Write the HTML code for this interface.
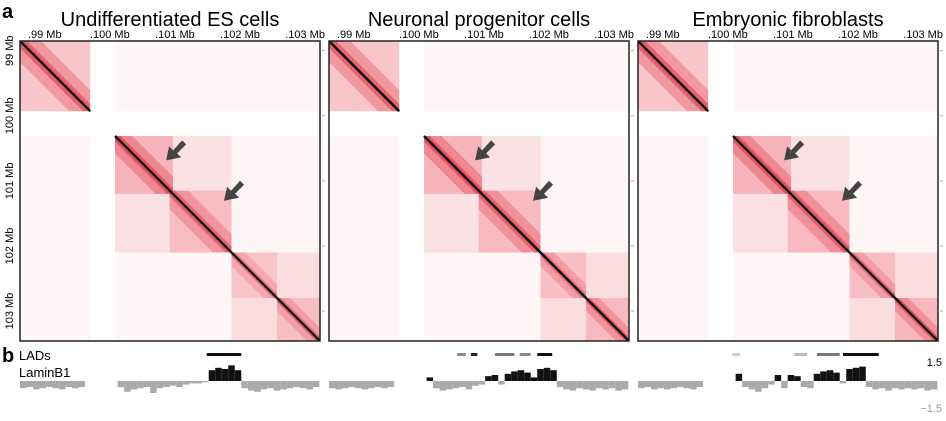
<!DOCTYPE html>
<html><head><meta charset="utf-8">
<style>
body{margin:0;background:#fff;width:946px;height:416px;overflow:hidden;font-family:"Liberation Sans",Arial,sans-serif}
svg text{font-family:"Liberation Sans",Arial,sans-serif}
</style></head>
<body>
<svg id="fig" width="946" height="416" viewBox="0 0 946 416" xmlns="http://www.w3.org/2000/svg">
<text x="2" y="18" font-size="20" font-weight="bold">a</text>
<text x="2" y="362" font-size="20" font-weight="bold">b</text>
<text x="19" y="360" font-size="13">LADs</text>
<text x="19" y="377" font-size="13">LaminB1</text>
<text x="942" y="366" font-size="11" text-anchor="end">1.5</text>
<text x="942" y="412" font-size="11" fill="#999" text-anchor="end">−1.5</text>
</svg>
<script>
const titles=["Undifferentiated ES cells","Neuronal progenitor cells","Embryonic fibroblasts"];
const panelX=[20,329,638];
const tickMb=[99,100,101,102,103];
const gapMb=[99.93,100.31];
// domains: [startMb,endMb,intensity]
const domains1=[[98.85,99.93,0.8],[100.31,101.2,0.85],[101.15,102.1,0.7],[102.1,102.8,0.5],[102.8,103.46,0.6]];
const domains2=[[98.85,99.93,0.8],[100.31,101.2,0.85],[101.15,102.1,0.75],[102.1,102.8,0.6],[102.8,103.46,0.7]];
const domains3=[[98.85,99.93,0.8],[100.31,101.2,0.85],[101.15,102.1,0.75],[102.1,102.8,0.6],[102.8,103.46,0.75]];
const allDomains=[domains1,domains2,domains3];
const arrowsMb=[[101.28,100.5],[102.17,101.12]];
// LaminB1 values at 0.1 Mb bins from 98.9 to 103.4 (null = gap)
const lamin1=[-0.6,-0.5,-0.7,-0.6,-0.5,-0.6,-0.7,-0.5,-0.6,-0.5,null,null,null,null,null,-0.5,-0.9,-0.7,-0.6,-0.5,-1.0,-0.6,-0.5,-0.4,-0.5,-0.3,-0.2,-0.2,-0.1,0.9,1.1,1.0,1.3,0.9,-0.6,-0.8,-0.9,-0.7,-0.6,-0.8,-0.7,-0.6,-0.5,-0.6,-0.7,-0.5];
const lamin2=[-0.6,-0.7,-0.6,-0.5,-0.6,-0.7,-0.6,-0.5,-0.6,-0.5,null,null,null,null,null,0.3,-0.6,-0.8,-0.7,-0.6,-0.5,-0.7,-0.4,-0.3,0.4,0.5,-0.3,0.6,0.8,0.9,0.7,0.3,1.0,1.1,0.9,-0.5,-0.7,-0.8,-0.6,-0.7,-0.8,-0.6,-0.7,-0.6,-0.8,-0.7];
const lamin3=[-0.6,-0.5,-0.7,-0.6,-0.7,-0.6,-0.5,-0.6,-0.7,-0.5,null,null,null,null,null,0.6,-0.5,-0.7,-0.9,-0.6,-0.3,0.5,-0.6,0.5,0.4,-0.5,-0.6,0.6,0.8,0.9,0.7,-0.2,1.0,1.1,1.2,-0.5,-0.7,-0.6,-0.8,-0.6,-0.7,-0.6,-0.7,-0.6,-0.8,-0.7];
const allLamin=[lamin1,lamin2,lamin3];
const lads1=[[101.72,102.25,"#111"]];
const lads2=[[100.82,100.95,"#888"],[101.03,101.13,"#222"],[101.4,101.7,"#777"],[101.78,101.95,"#888"],[102.05,102.28,"#111"]];
const lads3=[[100.3,100.42,"#ccc"],[101.25,101.45,"#bbb"],[101.6,101.95,"#777"],[102.0,102.55,"#111"]];
const allLads=[lads1,lads2,lads3];

const NS="http://www.w3.org/2000/svg";
const svg=document.getElementById('fig');
const top0=41,size=300,mb0=98.85,mb1=103.46;
function mk(t,a,p){const e=document.createElementNS(NS,t);for(const k in a)e.setAttribute(k,a[k]);(p||svg).appendChild(e);return e;}
function sx(px,mb){return px+(mb-mb0)/(mb1-mb0)*size;}
function sy(mb){return top0+(mb-mb0)/(mb1-mb0)*size;}
const defs=mk('defs',{});
titles.forEach((t,i)=>{
  const px=panelX[i];
  const g=mk('g',{});
  
  
  const cp=mk('clipPath',{id:'c'+i},defs);mk('rect',{x:px,y:top0,width:size,height:size},cp);
  const inner=mk('g',{'clip-path':'url(#c'+i+')'},g);
  mk('rect',{x:px,y:top0,width:size,height:size,fill:'#fdf5f6'},inner);
  mk('rect',{x:sx(px,100.31),y:sy(100.31),width:sx(px,102.1)-sx(px,100.31),height:sy(102.1)-sy(100.31),fill:'#ee3344','fill-opacity':0.1},inner);
  mk('rect',{x:sx(px,102.1),y:sy(102.1),width:sx(px,103.46)-sx(px,102.1),height:sy(103.46)-sy(102.1),fill:'#ee3344','fill-opacity':0.12},inner);
  const ds=allDomains[i];
  ds.forEach(d=>{
    const x0=sx(px,d[0]),x1=sx(px,d[1]),y0=sy(d[0]),y1=sy(d[1]);
    const r=mk('rect',{x:x0,y:y0,width:x1-x0,height:y1-y0,fill:'#ee3344','fill-opacity':d[2]*0.3},inner);
    
    
    const w=(x1-x0)*0.3;
    mk('polygon',{points:`${x0},${y0} ${x0+w},${y0} ${x1},${y1-w} ${x1},${y1} ${x1-w},${y1} ${x0},${y0+w}`,fill:'#e0202e','fill-opacity':d[2]*0.35},inner);
    const w2=(x1-x0)*0.1;
    mk('polygon',{points:`${x0},${y0} ${x0+w2},${y0} ${x1},${y1-w2} ${x1},${y1} ${x1-w2},${y1} ${x0},${y0+w2}`,fill:'#d0101e','fill-opacity':d[2]*0.5},inner);
  });
  mk('rect',{x:sx(px,gapMb[0]),y:top0,width:sx(px,gapMb[1])-sx(px,gapMb[0]),height:size,fill:'#fff'},inner);
  mk('rect',{x:px,y:sy(gapMb[0]),width:size,height:sy(gapMb[1])-sy(gapMb[0]),fill:'#fff'},inner);
  mk('line',{x1:sx(px,mb0),y1:sy(mb0),x2:sx(px,gapMb[0]),y2:sy(gapMb[0]),stroke:'#111',"stroke-width":2.5},inner);
  mk('line',{x1:sx(px,gapMb[1]),y1:sy(gapMb[1]),x2:sx(px,mb1),y2:sy(mb1),stroke:'#111',"stroke-width":2.5},inner);
  arrowsMb.forEach(a=>{
    const ax=sx(px,a[0]),ay=sy(a[1]);
    const ar=mk('polygon',{points:`${ax-12},${ay+12} ${ax-9},${ay-2} ${ax-5},${ay+2} ${ax+4},${ay-8} ${ax+8},${ay-4} ${ax-1},${ay+5} ${ax+3},${ay+9}`,fill:'#444'},g);
    
    
  });
  mk('rect',{x:px,y:top0,width:size,height:size,fill:'none',stroke:'#222','stroke-width':1.5},g);
  const tt=mk('text',{x:px+size/2,y:26,'font-size':20,'text-anchor':'middle'});
  tt.textContent=t;
  
  
  tickMb.forEach(m=>{
    const tx=mk('text',{x:sx(px,m)+15,y:38,'font-size':11,'text-anchor':'middle'});
    tx.textContent='.'+m+' Mb';
    
    
    mk('line',{x1:px+size+2,x2:px+size+5,y1:sy(m),y2:sy(m),stroke:'#888','stroke-width':0.7});
    if(i===0){
      const ty=mk('text',{x:13,y:sy(m),'font-size':11,'text-anchor':'middle',transform:`rotate(-90 13 ${sy(m)})`});
      ty.textContent=m+' Mb';
      
      
    }
  });
  allLads[i].forEach(l=>{
    const lr=mk('rect',{x:sx(px,l[0]),y:353,width:sx(px,l[1])-sx(px,l[0]),height:3,fill:l[2]});
    
    
  });
  const base=381,sc=12;
  allLamin[i].forEach((v,k)=>{
    if(v===null)return;
    const m=98.9+k*0.1;
    const x0=sx(px,m-0.05),x1=sx(px,m+0.05);
    const h=Math.abs(v)*sc;
    const b=mk('rect',{x:x0,y:v>0?base-h:base,width:x1-x0,height:h,fill:v>0?'#111':'#aaa'});
    
    
  });
});
</script>
</body></html>
